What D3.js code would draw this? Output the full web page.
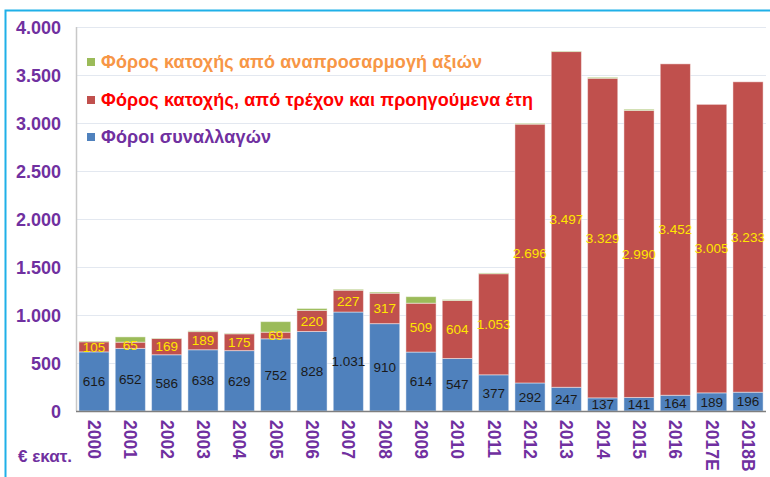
<!DOCTYPE html>
<html><head><meta charset="utf-8">
<script src="https://cdn.jsdelivr.net/npm/d3@7"></script>
<style>html,body{margin:0;padding:0;background:#fff;}svg{display:block;font-family:Arial,"Liberation Sans",sans-serif;}</style>
</head><body>
<svg id="c" width="770" height="477"></svg>
<script>
const years = ["2000","2001","2002","2003","2004","2005","2006","2007","2008","2009","2010","2011","2012","2013","2014","2015","2016","2017E","2018B"];
const transactionTaxes = [616,652,586,638,629,752,828,1031,910,614,547,377,292,247,137,141,164,189,196];
const holdingTaxCurrent = [105,65,169,189,175,69,220,227,317,509,604,1053,2696,3497,3329,2990,3452,3005,3233];
const holdingTaxRevaluation = [8,55,5,8,5,110,20,10,12,68,10,8,8,6,10,12,0,0,0];
const yTicks = [0,500,1000,1500,2000,2500,3000,3500,4000];
const seriesNames = ["Φόροι συναλλαγών","Φόρος κατοχής, από τρέχον και προηγούμενα έτη","Φόρος κατοχής από αναπροσαρμογή αξιών"];
const seriesColors = ["#4F81BD","#C0504D","#9BBB59"];
const unitLabel = "€ εκατ.";

const svg = d3.select("#c");
const fmt = v => d3.format(",")(v).replace(/,/g, ".");

// frame
svg.append("path").attr("d","M5.5,477 L5.5,10.5 L770,10.5").attr("fill","none").attr("stroke","#1FB0E8").attr("stroke-width",2);

const x = d3.scaleBand().domain(years).range([76,766]).paddingInner(0.17).paddingOuter(0.08);
const y = d3.scaleLinear().domain([0,4000]).range([411,27]);

// gridlines
svg.append("g").selectAll("line").data(yTicks.filter(d=>d>0)).join("line")
  .attr("x1",76).attr("x2",766).attr("y1",d=>y(d)+0.5).attr("y2",d=>y(d)+0.5)
  .attr("stroke","#E3E8F0").attr("stroke-width",1.2);

// y axis labels
const yAxis = d3.axisLeft(y).tickValues(yTicks).tickFormat(fmt).tickSize(0).tickPadding(0);
const gy = svg.append("g").attr("transform","translate(61,0)").call(yAxis);
gy.select(".domain").remove();
gy.selectAll("text").attr("fill","#7030A0").style("font-size","18px").style("font-weight","bold").style("font-family","Arial,'Liberation Sans',sans-serif").attr("dy","0.35em");

// left axis line
svg.append("line").attr("x1",76.5).attr("x2",76.5).attr("y1",y(4000)).attr("y2",y(0)).attr("stroke","#C8C8C8").attr("stroke-width",1.5);

// stacked data
const rows = years.map((yr,i)=>({year:yr, a:transactionTaxes[i], b:holdingTaxCurrent[i], c:holdingTaxRevaluation[i]}));
const stack = d3.stack().keys(["a","b","c"])(rows);

stack.forEach((s,si)=>{
  svg.append("g").selectAll("rect").data(s).join("rect")
    .attr("x",d=>x(d.data.year)).attr("width",x.bandwidth())
    .attr("y",d=>y(d[1])).attr("height",d=>Math.max(0,y(d[0])-y(d[1])))
    .attr("fill",seriesColors[si]).attr("stroke","rgba(255,255,255,0.45)").attr("stroke-width",1);
});

// bottom axis line
svg.append("line").attr("x1",76).attr("x2",766).attr("y1",411.5).attr("y2",411.5).attr("stroke","#7F7F7F").attr("stroke-width",1.5);

// data labels
svg.append("g").selectAll("text").data(stack[0]).join("text")
  .attr("x",d=>x(d.data.year)+x.bandwidth()/2).attr("y",d=>(y(d[0])+y(d[1]))/2)
  .attr("dy","0.35em").attr("text-anchor","middle").attr("fill","#1a1a1a").style("font-size","13.5px")
  .text(d=>fmt(d.data.a));
svg.append("g").selectAll("text").data(stack[1]).join("text")
  .attr("x",d=>x(d.data.year)+x.bandwidth()/2).attr("y",d=>(y(d[0])+y(d[1]))/2)
  .attr("dy","0.35em").attr("text-anchor","middle").attr("fill","#FFE600").style("font-size","13.5px")
  .text(d=>fmt(d.data.b));

// x labels
const xAxis = d3.axisBottom(x).tickSize(0).tickPadding(0);
const gx = svg.append("g").attr("transform","translate(0,420)").call(xAxis);
gx.select(".domain").remove();
gx.selectAll("text").attr("transform","rotate(90)").attr("x",0).attr("y",0).attr("dy","0.35em").attr("text-anchor","start")
  .attr("fill","#7030A0").style("font-size","17.5px").style("font-weight","bold").style("font-family","Arial,'Liberation Sans',sans-serif");

svg.append("text").attr("x",18).attr("y",456).attr("dy","0.35em").attr("fill","#7030A0")
  .style("font-size","16.5px").style("font-weight","bold").attr("textLength",54).attr("lengthAdjust","spacingAndGlyphs").text(unitLabel);

// legend
const legend = [
  {name:seriesNames[2], color:seriesColors[2], text:"#F79646", y:62, w:381, weight:"bold"},
  {name:seriesNames[1], color:seriesColors[1], text:"#FF0000", y:100, w:432, weight:"bold"},
  {name:seriesNames[0], color:seriesColors[0], text:"#7030A0", y:137, w:170, weight:"bold"}
];
const lg = svg.append("g").selectAll("g").data(legend).join("g").attr("transform",d=>`translate(87,${d.y})`);
lg.append("rect").attr("x",0).attr("y",-4).attr("width",8).attr("height",8).attr("fill",d=>d.color);
lg.append("text").attr("x",14).attr("dy","0.35em").attr("fill",d=>d.text)
  .style("font-size","18px").style("font-weight",d=>d.weight)
  .attr("textLength",d=>d.w).attr("lengthAdjust","spacing").text(d=>d.name);
</script>
</body></html>
